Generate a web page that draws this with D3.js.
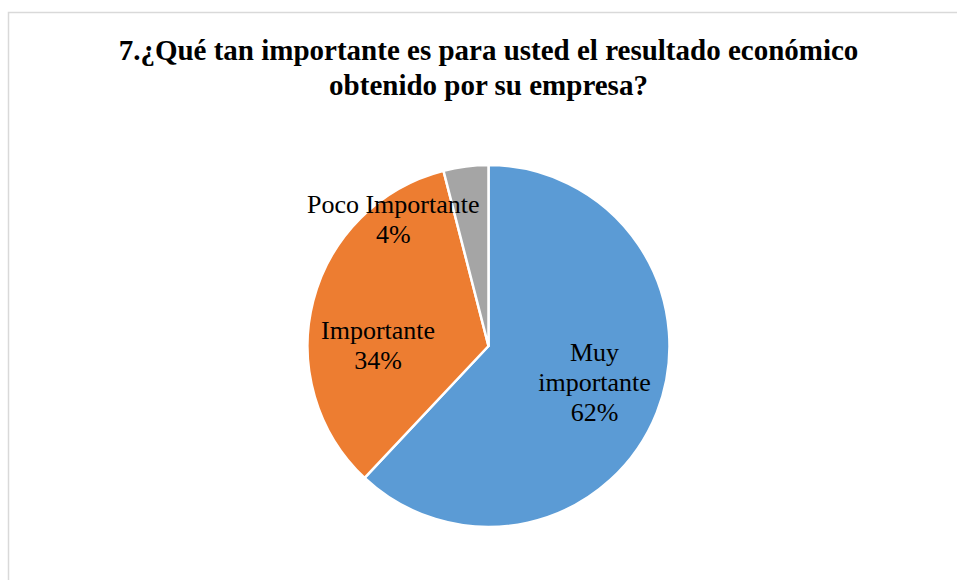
<!DOCTYPE html>
<html>
<head>
<meta charset="utf-8">
<script src="https://cdn.jsdelivr.net/npm/d3@7"></script>
<style>
  html, body { margin: 0; padding: 0; background: #fff; }
  svg { display: block; }
</style>
</head>
<body>
<svg id="chart" width="957" height="580"></svg>
<script>
// Survey answers and their shares
const categories = ["Muy importante", "Importante", "Poco Importante"];
const values = [62, 34, 4];
const labelLines = [["Muy", "importante"], ["Importante"], ["Poco Importante"]];
const titleLines = [
  "7.¿Qué tan importante es para usted el resultado económico",
  "obtenido por su empresa?"
];

const W = 957, H = 580;
const cx = 488.5, cy = 346, R = 181;
const colors = d3.scaleOrdinal().domain(categories).range(["#5B9BD5", "#ED7D31", "#A5A5A5"]);
const serif = "'Liberation Serif', 'Times New Roman', serif";

const svg = d3.select("#chart");

// chart frame (extends past the right and bottom edges)
svg.append("rect")
  .attr("x", 8.5).attr("y", 12.5)
  .attr("width", W + 20).attr("height", H + 20)
  .attr("fill", "#fff").attr("stroke", "#d9d9d9").attr("stroke-width", 1.5);

// title
svg.append("g").selectAll("text").data(titleLines).join("text")
  .attr("x", cx).attr("y", (d, i) => 60 + i * 35)
  .attr("text-anchor", "middle")
  .attr("font-family", serif)
  .attr("font-weight", "bold").attr("font-size", 29)
  .attr("fill", "#000")
  .text(d => d);

const pie = d3.pie().sort(null).value(d => d.value);
const data = pie(categories.map((c, i) => ({ name: c, value: values[i], lines: labelLines[i] })));
const arc = d3.arc().innerRadius(0).outerRadius(R);

const g = svg.append("g").attr("transform", `translate(${cx},${cy})`);
g.selectAll("path").data(data).join("path")
  .attr("d", arc)
  .attr("fill", d => colors(d.data.name))
  .attr("stroke", "#fff").attr("stroke-width", 2.5)
  .attr("stroke-linejoin", "round");

// label placement: centroid on a ring, plus a nudge for the best-fit layout
const labelArc = d3.arc().innerRadius(R * 0.63).outerRadius(R * 0.63);
const nudges = {
  "Muy importante": [0, -6],
  "Importante": [0, 27],
  "Poco Importante": [-81, -14]
};
const total = d3.sum(values);
const lineH = 30;

const labels = g.selectAll("g.lbl").data(data).join("g").attr("class", "lbl")
  .attr("transform", d => {
    const [x, y] = labelArc.centroid(d);
    const [dx, dy] = nudges[d.data.name];
    return `translate(${x + dx},${y + dy})`;
  });

labels.each(function(d) {
  const lines = d.data.lines.concat([Math.round(d.data.value / total * 100) + "%"]);
  const n = lines.length;
  d3.select(this).selectAll("text").data(lines).join("text")
    .attr("x", 0)
    .attr("y", (t, i) => (i - (n - 1) / 2) * lineH)
    .attr("dy", "0.35em")
    .attr("text-anchor", "middle")
    .attr("font-family", serif)
    .attr("font-size", 26)
    .attr("fill", "#000")
    .text(t => t);
});
</script>
</body>
</html>
